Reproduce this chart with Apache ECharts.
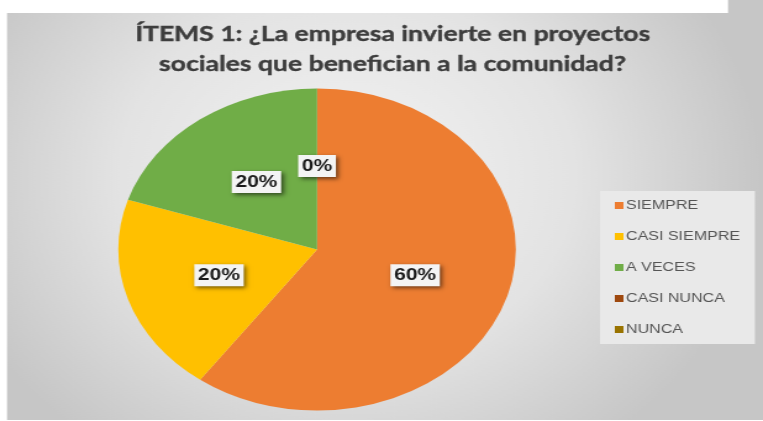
<!DOCTYPE html>
<html>
<head>
<meta charset="utf-8">
<script src="https://cdn.jsdelivr.net/npm/echarts@6/dist/echarts.min.js"></script>
<style>
  html, body { margin: 0; padding: 0; background: #ffffff; overflow: hidden; }
  #c { width: 618px; height: 421px; transform: scaleX(1.2346); transform-origin: 0 0; }
</style>
</head>
<body>
<div id="c"></div>
<script>
var titleLines = ['ÍTEMS 1: ¿La empresa invierte en proyectos', 'sociales que benefician a la comunidad?'];
var categories = ['SIEMPRE', 'CASI SIEMPRE', 'A VECES', 'CASI NUNCA', 'NUNCA'];
var percentages = [60, 20, 20, 0, 0];
var colors = ['#ED7D31', '#FFC000', '#70AD47', '#9E480E', '#997300'];

var chart = echarts.init(document.getElementById('c'), null, { renderer: 'canvas' });

var pieData = categories.map(function (name, i) {
  return { name: name, value: percentages[i], itemStyle: { color: colors[i] } };
});

var option = {
  backgroundColor: '#ffffff',
  animation: false,
  graphic: [
    {
      type: 'rect', z: -10, silent: true,
      shape: { x: 5.7, y: 0, width: 613, height: 420 },
      style: {
        fill: new echarts.graphic.RadialGradient(0.45, 0.42, 0.8, [
          { offset: 0, color: '#f3f3f3' },
          { offset: 0.55, color: '#e3e3e3' },
          { offset: 1, color: '#c6c6c6' }
        ])
      }
    },
    {
      type: 'rect', z: -9, silent: true,
      shape: { x: 0, y: 0, width: 589.7, height: 13 },
      style: { fill: '#ffffff' }
    }
  ],
  title: {
    text: titleLines.join('\n'),
    left: 318,
    top: 19,
    padding: 0,
    textAlign: 'center',
    textStyle: {
      fontFamily: 'Lato',
      fontWeight: 'bold',
      fontSize: 21.5,
      lineHeight: 30,
      color: '#3d3d3d',
      textBorderColor: '#3d3d3d',
      textBorderWidth: 0.4
    }
  },
  legend: {
    orient: 'vertical',
    left: 486,
    top: 191,
    padding: [8, 12, 8, 12],
    backgroundColor: '#e9e9e9',
    itemGap: 18,
    itemWidth: 7,
    itemHeight: 7,
    icon: 'rect',
    data: categories,
    textStyle: {
      fontFamily: 'Liberation Sans',
      fontSize: 13,
      color: '#555555',
      padding: [0, 0, 0, -3]
    }
  },
  series: [{
    type: 'pie',
    center: [256.8, 249.5],
    radius: 161,
    startAngle: 90,
    clockwise: true,
    avoidLabelOverlap: false,
    labelLayout: { hideOverlap: true },
    itemStyle: { borderWidth: 0 },
    emphasis: { disabled: true },
    label: {
      show: true,
      position: 'inside',
      formatter: '{c}%',
      fontFamily: 'Liberation Sans',
      fontWeight: 'bold',
      fontSize: 17,
      color: '#1a1a1a',
      backgroundColor: '#f4f4f4',
      padding: [3, 3, 2, 3],
      shadowColor: 'rgba(0,0,0,0.55)',
      shadowBlur: 4,
      shadowOffsetX: 2,
      shadowOffsetY: 2
    },
    labelLine: { show: false },
    data: pieData
  }]
};

chart.setOption(option);
</script>
</body>
</html>
